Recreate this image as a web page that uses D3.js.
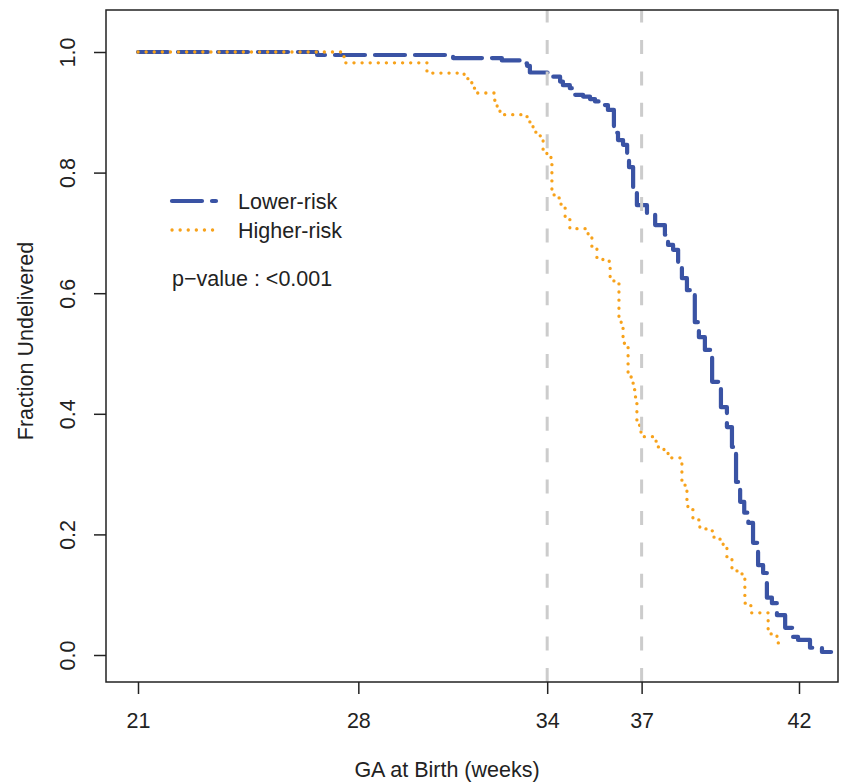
<!DOCTYPE html>
<html>
<head>
<meta charset="utf-8">
<script src="https://cdn.jsdelivr.net/npm/d3@7"></script>
<style>
  html, body { margin: 0; padding: 0; background: #fff; }
  svg { display: block; }
  text { font-family: "Liberation Sans", Arial, Helvetica, sans-serif; fill: #222; }
</style>
</head>
<body>
<svg id="chart" width="848" height="782"></svg>
<script>
// ---------------- DATA ----------------
const xTicks = [21, 28, 34, 37, 42];
const yTicks = [0, 0.2, 0.4, 0.6, 0.8, 1.0];
const yTickLabels = ["0.0", "0.2", "0.4", "0.6", "0.8", "1.0"];
const refLines = [34, 37];

const seriesNames = ["Lower-risk", "Higher-risk"];

const lowerTime = [21, 26.69, 31.01, 32.56, 33.20, 33.36, 33.45, 34.15, 34.41, 34.50, 34.72, 34.82, 35.14, 35.36, 35.52, 35.68, 35.93, 36.12, 36.25, 36.41, 36.54, 36.60, 36.73, 36.85, 37.17, 37.43, 37.74, 37.84, 38.00, 38.16, 38.28, 38.44, 38.69, 38.82, 39.01, 39.24, 39.52, 39.71, 39.87, 40.00, 40.13, 40.26, 40.39, 40.54, 40.70, 40.86, 40.98, 41.14, 41.30, 41.56, 41.81, 41.97, 42.35, 42.73, 43.02];
const lowerSurv = [1.000, 0.995, 0.990, 0.986, 0.981, 0.977, 0.966, 0.959, 0.951, 0.945, 0.940, 0.929, 0.926, 0.922, 0.918, 0.912, 0.904, 0.866, 0.854, 0.846, 0.824, 0.809, 0.766, 0.746, 0.733, 0.713, 0.697, 0.680, 0.672, 0.652, 0.625, 0.605, 0.552, 0.527, 0.506, 0.453, 0.411, 0.378, 0.345, 0.287, 0.254, 0.236, 0.219, 0.186, 0.149, 0.136, 0.095, 0.086, 0.066, 0.045, 0.030, 0.025, 0.012, 0.005, 0.005];

const higherTime = [21, 27.545, 30.18, 31.36, 31.48, 31.61, 31.74, 32.31, 32.41, 32.50, 33.36, 33.45, 33.55, 33.64, 33.87, 33.99, 34.12, 34.15, 34.22, 34.44, 34.57, 34.72, 35.30, 35.42, 35.58, 35.77, 36.00, 36.12, 36.28, 36.35, 36.41, 36.57, 36.73, 36.79, 36.85, 36.98, 37.46, 37.71, 37.84, 38.28, 38.38, 38.44, 38.47, 38.63, 38.85, 39.08, 39.30, 39.52, 39.59, 39.71, 39.87, 40.03, 40.19, 40.28, 40.47, 41.02, 41.08, 41.30, 41.37, 41.43];
const higherSurv = [1.000, 0.982, 0.965, 0.957, 0.949, 0.940, 0.932, 0.920, 0.907, 0.896, 0.887, 0.879, 0.869, 0.861, 0.833, 0.826, 0.821, 0.768, 0.758, 0.743, 0.725, 0.707, 0.697, 0.677, 0.658, 0.653, 0.627, 0.619, 0.561, 0.551, 0.517, 0.461, 0.440, 0.428, 0.381, 0.362, 0.345, 0.335, 0.327, 0.285, 0.275, 0.252, 0.241, 0.224, 0.209, 0.206, 0.192, 0.189, 0.179, 0.163, 0.143, 0.138, 0.129, 0.086, 0.070, 0.043, 0.035, 0.020, 0.013, 0.013];

// ---------------- LAYOUT ----------------
const box = { left: 106, top: 10, right: 838, bottom: 682 };
const BLUE = "#3A53A4", ORANGE = "#F7A21B", GREY = "#CCCCCC", INK = "#222";
const FS = 21.5;

const svg = d3.select("#chart");
svg.append("rect").attr("width", 848).attr("height", 782).attr("fill", "#fff");

const x = d3.scaleLinear().domain([21, 42]).range([138, 799]);
const y = d3.scaleLinear().domain([0, 1]).range([655, 52]);

const line = d3.line().x(d => x(d[0])).y(d => y(d[1])).curve(d3.curveStepAfter);
const lowerData = lowerTime.map((t, i) => [t, lowerSurv[i]]);
const higherData = higherTime.map((t, i) => [t, higherSurv[i]]);

// curves
svg.append("path").datum(lowerData).attr("d", line)
  .attr("fill", "none").attr("stroke", BLUE).attr("stroke-width", 4.2)
  .attr("stroke-dasharray", "30 10").attr("stroke-linecap", "round").attr("stroke-linejoin", "round");
svg.append("path").datum(higherData).attr("d", line)
  .attr("fill", "none").attr("stroke", ORANGE).attr("stroke-width", 3.3)
  .attr("stroke-dasharray", "0.1 8").attr("stroke-linecap", "round");

// reference lines
svg.selectAll("line.ref").data(refLines).enter().append("line")
  .attr("class", "ref")
  .attr("x1", d => x(d)).attr("x2", d => x(d))
  .attr("y1", box.bottom).attr("y2", box.top)
  .attr("stroke", GREY).attr("stroke-width", 3)
  .attr("stroke-dasharray", "14 17.4");

// box
svg.append("rect")
  .attr("x", box.left).attr("y", box.top)
  .attr("width", box.right - box.left).attr("height", box.bottom - box.top)
  .attr("fill", "none").attr("stroke", INK).attr("stroke-width", 1.5);

// x axis
const xAxis = d3.axisBottom(x).tickValues(xTicks).tickSize(12).tickPadding(19).tickFormat(d3.format("d"));
const gx = svg.append("g").attr("transform", `translate(0,${box.bottom})`).call(xAxis);
gx.select(".domain").remove();
gx.selectAll(".tick line").attr("stroke", INK).attr("stroke-width", 1.5);
gx.selectAll(".tick text").attr("font-size", FS).attr("fill", INK)
  .style("font-family", '"Liberation Sans", Arial, sans-serif');

// y axis
const yAxis = d3.axisLeft(y).tickValues(yTicks).tickSize(12).tickFormat((d, i) => yTickLabels[i]);
const gy = svg.append("g").attr("transform", `translate(${box.left},0)`).call(yAxis);
gy.select(".domain").remove();
gy.selectAll(".tick line").attr("stroke", INK).attr("stroke-width", 1.5);
gy.selectAll(".tick text")
  .attr("x", null).attr("dy", null)
  .attr("text-anchor", "middle")
  .attr("transform", "translate(-31,0) rotate(-90)")
  .attr("font-size", FS).attr("fill", INK)
  .style("font-family", '"Liberation Sans", Arial, sans-serif');

// axis titles
svg.append("text").attr("x", 447).attr("y", 777).attr("text-anchor", "middle")
  .attr("font-size", FS).text("GA at Birth (weeks)");
svg.append("text").attr("transform", "translate(33,341) rotate(-90)").attr("text-anchor", "middle")
  .attr("font-size", FS).text("Fraction Undelivered");

// legend
const legend = svg.append("g");
const legY = [201, 230];
const legStyles = [
  { color: BLUE, width: 4.2, dash: "30 10" },
  { color: ORANGE, width: 3.3, dash: "0.1 8" }
];
seriesNames.forEach((name, i) => {
  legend.append("line").attr("x1", 172).attr("x2", 216).attr("y1", legY[i]).attr("y2", legY[i])
    .attr("stroke", legStyles[i].color).attr("stroke-width", legStyles[i].width)
    .attr("stroke-dasharray", legStyles[i].dash).attr("stroke-linecap", "round");
  legend.append("text").attr("x", 238).attr("y", legY[i] + 7.5).attr("font-size", FS).text(name);
});
svg.append("text").attr("x", 172).attr("y", 286).attr("font-size", FS).text("p\u2212value : <0.001");
</script>
</body>
</html>
